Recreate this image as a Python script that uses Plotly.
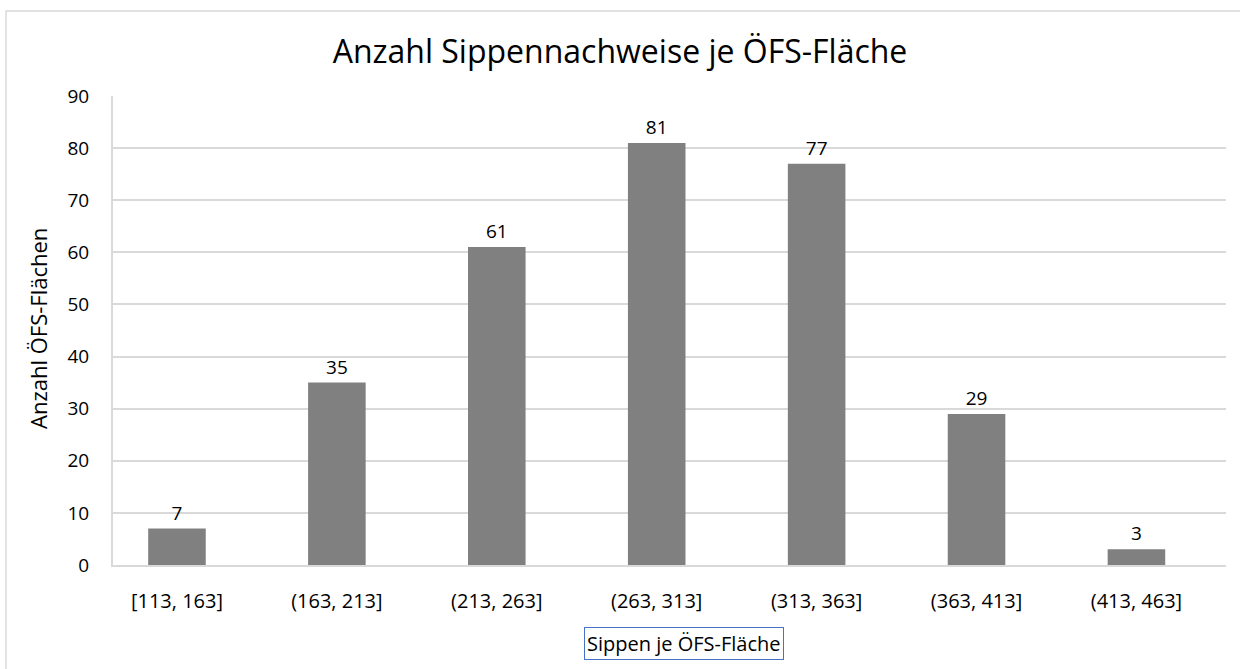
import plotly.graph_objects as go

categories = ["[113, 163]", "(163, 213]", "(213, 263]", "(263, 313]", "(313, 363]", "(363, 413]", "(413, 463]"]
counts = [7, 35, 61, 81, 77, 29, 3]
y_ticks = [0, 10, 20, 30, 40, 50, 60, 70, 80, 90]

FONT = "Open Sans, Liberation Sans, sans-serif"
L, R, T, B = 113, 14, 96, 104
PW, PH = 1240 - L - R, 669 - T - B

fig = go.Figure(go.Bar(
    x=categories, y=counts,
    marker=dict(color="#808080", line=dict(width=0)),
    text=[str(v) for v in counts], textposition="outside",
    textfont=dict(size=19, color="#000000", family=FONT),
    cliponaxis=False, width=0.36,
))

fig.update_layout(
    width=1240, height=669,
    paper_bgcolor="white", plot_bgcolor="white",
    margin=dict(l=L, r=R, t=T, b=B),
    title=dict(text="Anzahl Sippennachweise je ÖFS-Fläche", x=0.5, xanchor="center",
               y=1 - 52/669, yref="container", yanchor="middle",
               font=dict(size=32, color="#000000", family=FONT)),
    showlegend=False,
    font=dict(family=FONT, color="#000000"),
)

fig.update_xaxes(showgrid=False, showline=True, linecolor="#d9d9d9", linewidth=2,
                 range=[-0.4, 6.56],
                 tickfont=dict(size=20, color="#000000"), ticks="", ticklabelstandoff=17)
fig.update_yaxes(range=[0, 90], tickvals=y_ticks, showgrid=True, gridcolor="#d9d9d9", gridwidth=1.5,
                 showline=True, linecolor="#d9d9d9", linewidth=2, zeroline=False,
                 tickfont=dict(size=19, color="#000000"), ticks="", ticklabelstandoff=18)

fig.add_annotation(text="Anzahl ÖFS-Flächen", xref="paper", yref="paper", textangle=-90,
                   x=(38 - L) / PW, y=(565 - 329) / PH, xanchor="center", yanchor="middle",
                   showarrow=False, font=dict(size=22, color="#000000"))

fig.add_annotation(text="Sippen je ÖFS-Fläche", xref="paper", yref="paper",
                   x=(684 - L) / PW, y=-(643 - 565) / PH, xanchor="center", yanchor="middle",
                   showarrow=False, font=dict(size=20, color="#000000"),
                   bordercolor="#4472C4", borderwidth=1, borderpad=2)

fig.add_shape(type="rect", xref="paper", yref="paper",
              x0=-(L - 6) / PW, x1=1.2, y0=-0.5, y1=1 + (T - 11) / PH,
              line=dict(color="#d9d9d9", width=1.5), fillcolor="rgba(0,0,0,0)", layer="below")

fig.write_html("out.html", config={"displayModeBar": False},
               post_script="document.body.style.margin='0';")
